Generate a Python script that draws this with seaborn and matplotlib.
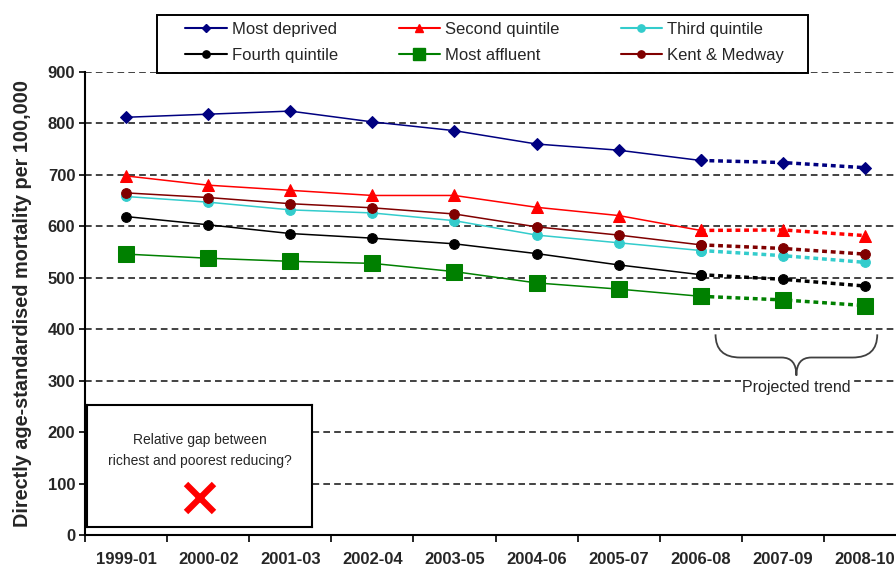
import numpy as np
import pandas as pd
import seaborn as sns
import matplotlib.pyplot as plt
from matplotlib.path import Path
from matplotlib.patches import PathPatch, Rectangle

# Data
periods = ['1999-01', '2000-02', '2001-03', '2002-04', '2003-05',
           '2004-06', '2005-07', '2006-08', '2007-09', '2008-10']
most_deprived = [812, 818, 824, 803, 786, 760, 748, 728, 724, 714]
second_quintile = [698, 680, 670, 660, 660, 637, 621, 592, 593, 582]
third_quintile = [658, 647, 632, 626, 611, 583, 568, 553, 543, 530]
fourth_quintile = [619, 603, 586, 577, 566, 547, 525, 506, 497, 484]
most_affluent = [546, 538, 532, 528, 512, 490, 478, 464, 457, 446]
kent_medway = [665, 656, 644, 636, 624, 599, 583, 564, 557, 546]
last_actual = 7  # 2006-08, later points are projected

series = [
    ('Most deprived', most_deprived, '#000080', 'D', 6),
    ('Second quintile', second_quintile, '#FF0000', '^', 8),
    ('Third quintile', third_quintile, '#33CCCC', 'o', 7),
    ('Fourth quintile', fourth_quintile, '#000000', 'o', 7),
    ('Most affluent', most_affluent, '#008000', 's', 11),
    ('Kent & Medway', kent_medway, '#800000', 'o', 7),
]

sns.set_style('white')
plt.rcParams['font.family'] = ['Liberation Sans', 'DejaVu Sans']

fig = plt.figure(figsize=(8.96, 5.65), dpi=100)
ax = fig.add_axes([85 / 896, 1 - 535 / 565, 821 / 896, 463 / 565])

x = np.arange(len(periods))
handles = {}
for name, vals, color, marker, ms in series:
    df = pd.DataFrame({'x': x, 'y': vals})
    actual = df.iloc[:last_actual + 1]
    proj = df.iloc[last_actual:]
    sns.lineplot(data=actual, x='x', y='y', ax=ax, color=color, lw=1.1,
                 marker=marker, markersize=ms, markeredgecolor=color,
                 label=name, legend=False, zorder=3)
    sns.lineplot(data=proj, x='x', y='y', ax=ax, color=color, lw=2.5,
                 linestyle=(0, (1.4, 1.1)), marker=marker, markersize=ms,
                 markeredgecolor=color, legend=False, zorder=3)
    handles[name] = ax.lines[-2]

ax.set_xlim(-0.5, len(periods) - 0.5)
ax.set_ylim(0, 900)
ax.set_yticks(range(0, 901, 100))
ax.set_xticks(np.arange(-0.5, len(periods), 1))
ax.set_xticklabels([])
ax.set_xticks(x, minor=True)
ax.set_xticklabels(periods, minor=True, fontweight='bold', fontsize=12)
ax.tick_params(axis='x', which='major', direction='out', length=5, width=1.2,
               bottom=True, color='black')
ax.tick_params(axis='x', which='minor', length=0, pad=12)
ax.tick_params(axis='y', direction='out', length=4, width=1.2, left=True,
               color='black', labelsize=12, pad=3)
for lab in ax.get_yticklabels():
    lab.set_fontweight('bold')
ax.set_xlabel('')
ax.set_ylabel('Directly age-standardised mortality per 100,000',
              fontsize=14.3, fontweight='bold', labelpad=11)

ax.yaxis.grid(True, color='#222222', linestyle=(0, (4, 2.5)), lw=1.2)
ax.set_axisbelow(True)
for side in ['top', 'right']:
    ax.spines[side].set_visible(False)
for side in ['left', 'bottom']:
    ax.spines[side].set_color('black')
    ax.spines[side].set_linewidth(1.5)

# legend above the plot, filled row by row, inside a separate frame
order = ['Most deprived', 'Fourth quintile', 'Second quintile',
         'Most affluent', 'Third quintile', 'Kent & Medway']
leg_handles = []
for n in order:
    h = handles[n]
    lh = plt.Line2D([], [], color=h.get_color(), lw=1.5, marker=h.get_marker(),
                    markersize=h.get_markersize() * 0.75,
                    markeredgecolor=h.get_color())
    leg_handles.append(lh)
fig.legend(leg_handles, order, ncol=3, loc='upper left',
           bbox_to_anchor=(185 / 896, 1 - 22 / 565),
           fontsize=12, frameon=False, handlelength=2.5,
           handletextpad=0.3, borderpad=0, borderaxespad=0,
           labelspacing=0.65, columnspacing=3.65)
fig.patches.append(Rectangle((157 / 896, 1 - 73 / 565), 651 / 896, 58 / 565,
                             transform=fig.transFigure, fill=False,
                             ec='black', lw=1.4))

# curly brace marking the projected trend
bx0, bx1 = 7.18, 9.15
bm = (bx0 + bx1) / 2
ytop, ymid, ytip = 390, 345, 310
verts = [(bx0, ytop), (bx0, ymid), (bx0 + 0.3, ymid),
         (bm - 0.18, ymid), (bm, ymid), (bm, ytip),
         (bm, ymid), (bm + 0.18, ymid),
         (bx1 - 0.3, ymid), (bx1, ymid), (bx1, ytop)]
codes = [Path.MOVETO, Path.CURVE3, Path.CURVE3,
         Path.LINETO, Path.CURVE3, Path.CURVE3,
         Path.CURVE3, Path.CURVE3,
         Path.LINETO, Path.CURVE3, Path.CURVE3]
ax.add_patch(PathPatch(Path(verts, codes), fc='none', ec='#404040', lw=1.3,
                       zorder=4))
ax.text(bm, 286, 'Projected trend', ha='center', va='center', fontsize=11.5,
        bbox=dict(fc='white', ec='none', pad=1), zorder=4)

# inset question box
box = fig.add_axes([87 / 896, 1 - 527 / 565, 225 / 896, 122 / 565])
box.set_xticks([])
box.set_yticks([])
box.set_xlim(0, 1)
box.set_ylim(0, 1)
for s in box.spines.values():
    s.set_color('black')
    s.set_linewidth(1.5)
box.text(0.5, 0.713, 'Relative gap between', ha='center', va='center',
         fontsize=10)
box.text(0.5, 0.541, 'richest and poorest reducing?', ha='center',
         va='center', fontsize=10)
box.plot([0.5], [0.238], marker='x', color='#FF0000', markersize=20,
         markeredgewidth=4.5)

fig.savefig('out.png', dpi=100)
